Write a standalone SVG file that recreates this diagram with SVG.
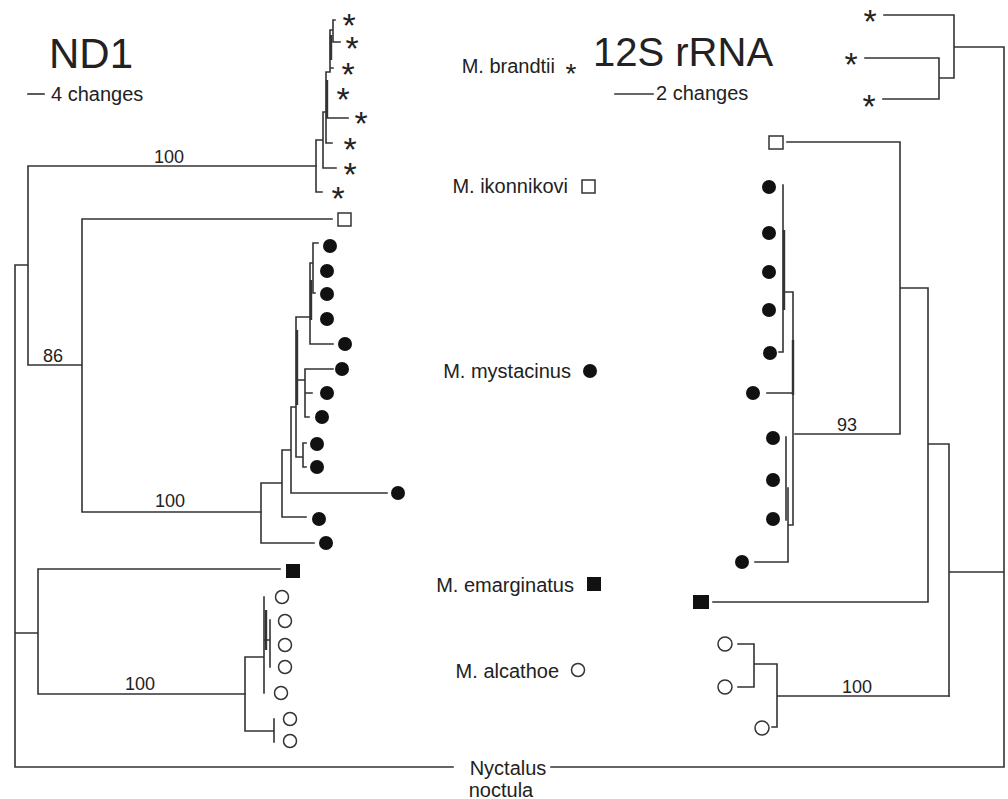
<svg xmlns="http://www.w3.org/2000/svg" width="1008" height="799" viewBox="0 0 1008 799">
<style>
.br{fill:none;stroke:#333;stroke-width:1.6;stroke-linecap:square}
.thk{fill:none;stroke:#333;stroke-width:2.4}
.t{font-family:"Liberation Sans",Arial,Helvetica,sans-serif;fill:#222}
.lab{font-size:20px;text-anchor:end}
.bs{font-size:18px}
.ast{font-family:"Liberation Sans",Arial,Helvetica,sans-serif;font-size:34px;fill:#222;text-anchor:middle}
.asts{font-family:"Liberation Sans",Arial,Helvetica,sans-serif;font-size:28px;fill:#222;text-anchor:middle}
.fc{fill:#111}
.oc{fill:#fff;stroke:#333;stroke-width:1.5}
</style>
<rect width="1008" height="799" fill="#fff"/>

<g id="connectors">
  <!-- ND1 tree -->
  <path class="br" d="M15,265V767 M15,265H28 M28,166V365 M28,166H316 M28,365H82 M82,219V512 M82,219H332 M82,512H261
    M15,633H38 M38,569V694 M38,569H280 M38,694H245 M15,767H453"/>
  <path class="br" d="M316,140V192 M316,192H322 M316,140H323 M323,112V168 M323,168H336 M323,112H326 M326,72V143 M326,143H332 M326,118H348
    M326,72H330 M330,30V72 M330,68H333 M330,30H333 M333,20V42 M333,42H340 M333,20H335"/>
  <path class="thk" d="M327,80V118 M331,35V60"/>
  <path class="br" d="M261,483V543 M261,543H314 M261,483H282 M282,450V517 M282,517H306 M282,450H291 M291,407V493 M291,493H387 M291,407H296
    M296,317V457 M296,457H303 M303,443V467 M303,443H306 M303,467H306
    M296,317H310 M310,263V344 M310,344H333 M310,263H313 M313,243V293 M313,243H318 M313,293H315
    M296,380H305 M305,369V417 M305,369H333 M305,393H312 M305,417H309"/>
  <path class="thk" d="M297,330V405 M311,280V320"/>
  <path class="br" d="M245,657V731 M245,657H264 M245,731H274 M274,719V742 M264,597V693 M270,620V667 M264,640H270"/>
  <path class="thk" d="M266,610V650"/>
  <!-- 12S tree -->
  <path class="br" d="M1004,47V767 M551,767H1004 M954,47H1004 M954,15V78 M884,15H954 M939,78H954 M939,58V99 M865,58H939 M883,99H939
    M949,572H1004 M949,444V696 M928,444H949 M928,288V602 M713,602H928 M900,288H928 M900,142V434 M787,142H900 M795,434H900"/>
  <path class="br" d="M783,185V352 M779,352H783 M783,292H793 M793,292V525 M767,393H793 M788,525H793 M786,437V520 M788,488V562 M755,562H788"/>
  <path class="thk" d="M784,230V310 M793,340V395"/>
  <path class="br" d="M777,696H949 M777,664V727 M754,664H777 M754,644V687 M738,644H754 M738,687H754 M772,727H777"/>
</g>

<g id="nd1-title">
  <text class="t" x="49" y="68" font-size="42">ND1</text>
  <path class="br" d="M28,94H44"/>
  <text class="t" x="51" y="101" font-size="20">4 changes</text>
</g>
<g id="s12-title">
  <text class="t" x="593" y="66" font-size="40">12S rRNA</text>
  <path class="br" d="M615,94H653"/>
  <text class="t" x="656" y="100" font-size="20">2 changes</text>
</g>

<g id="support-labels" class="t bs">
  <text x="154" y="163">100</text>
  <text x="43" y="362">86</text>
  <text x="155" y="507">100</text>
  <text x="125" y="690">100</text>
  <text x="837" y="431">93</text>
  <text x="842" y="693">100</text>
</g>

<g id="nd1-brandtii">
  <text class="ast" x="349" y="37">*</text>
  <text class="ast" x="352" y="60">*</text>
  <text class="ast" x="348" y="86">*</text>
  <text class="ast" x="343" y="111">*</text>
  <text class="ast" x="361" y="135">*</text>
  <text class="ast" x="350" y="161">*</text>
  <text class="ast" x="350" y="186">*</text>
  <text class="ast" x="338" y="210">*</text>
</g>
<g id="nd1-ikonnikovi"><rect class="oc" x="338" y="213" width="13" height="13"/></g>
<g id="nd1-mystacinus" class="fc">
  <circle cx="330" cy="246" r="7"/><circle cx="327" cy="271" r="7"/><circle cx="327" cy="294" r="7"/>
  <circle cx="327" cy="319" r="7"/><circle cx="345" cy="344" r="7"/><circle cx="342" cy="369" r="7"/>
  <circle cx="327" cy="393" r="7"/><circle cx="322" cy="417" r="7"/><circle cx="317" cy="444" r="7"/>
  <circle cx="317" cy="467" r="7"/><circle cx="398" cy="493" r="7"/><circle cx="319" cy="519" r="7"/>
  <circle cx="326" cy="543" r="7"/>
</g>
<g id="nd1-emarginatus"><rect class="fc" x="286" y="564" width="14" height="14"/></g>
<g id="nd1-alcathoe">
  <circle class="oc" cx="282" cy="597" r="6.5"/><circle class="oc" cx="285" cy="621" r="6.5"/>
  <circle class="oc" cx="285" cy="645" r="6.5"/><circle class="oc" cx="285" cy="667" r="6.5"/>
  <circle class="oc" cx="281" cy="693" r="6.5"/><circle class="oc" cx="290" cy="719" r="6.5"/>
  <circle class="oc" cx="290" cy="741" r="6.5"/>
</g>

<g id="s12-brandtii">
  <text class="ast" x="870" y="33">*</text>
  <text class="ast" x="851" y="76">*</text>
  <text class="ast" x="869" y="118">*</text>
</g>
<g id="s12-ikonnikovi"><rect class="oc" x="769" y="136" width="14" height="13"/></g>
<g id="s12-mystacinus" class="fc">
  <circle cx="769" cy="187" r="7"/><circle cx="769" cy="233" r="7"/><circle cx="769" cy="272" r="7"/>
  <circle cx="769" cy="310" r="7"/><circle cx="770" cy="353" r="7"/><circle cx="753" cy="393" r="7"/>
  <circle cx="773" cy="438" r="7"/><circle cx="773" cy="480" r="7"/><circle cx="773" cy="519" r="7"/>
  <circle cx="742" cy="562" r="7"/>
</g>
<g id="s12-emarginatus"><rect class="fc" x="693" y="595" width="16" height="14"/></g>
<g id="s12-alcathoe">
  <circle class="oc" cx="725" cy="644" r="7"/><circle class="oc" cx="725" cy="687" r="7"/>
  <circle class="oc" cx="762" cy="728" r="7"/>
</g>

<g id="legend-brandtii">
  <text class="t lab" x="555" y="73">M. brandtii</text>
  <text class="asts" x="571" y="83">*</text>
</g>
<g id="legend-ikonnikovi">
  <text class="t lab" x="568" y="193">M. ikonnikovi</text>
  <rect class="oc" x="582" y="180" width="13" height="13"/>
</g>
<g id="legend-mystacinus">
  <text class="t lab" x="571" y="378">M. mystacinus</text>
  <circle class="fc" cx="590" cy="371" r="7"/>
</g>
<g id="legend-emarginatus">
  <text class="t lab" x="574" y="592">M. emarginatus</text>
  <rect class="fc" x="587" y="577" width="14" height="14"/>
</g>
<g id="legend-alcathoe">
  <text class="t lab" x="559" y="678">M. alcathoe</text>
  <circle class="oc" cx="578" cy="670" r="6.5"/>
</g>
<g id="nyctalus">
  <text class="t" x="508" y="775" font-size="20" text-anchor="middle">Nyctalus</text>
  <text class="t" x="501" y="797" font-size="20" text-anchor="middle">noctula</text>
</g>
</svg>
